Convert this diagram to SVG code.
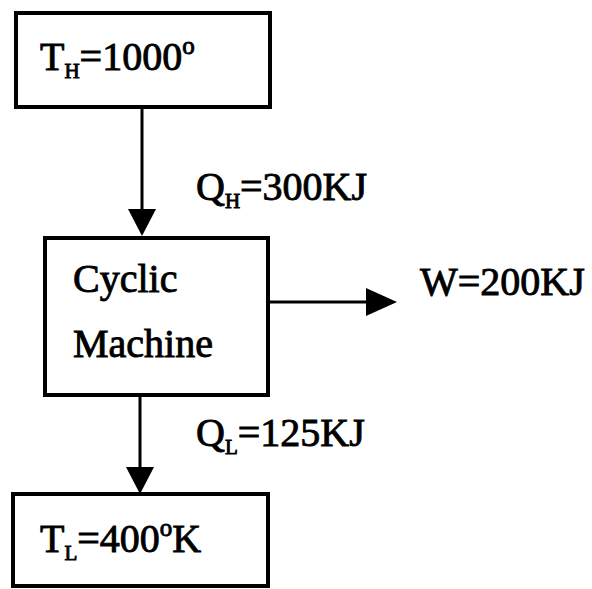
<svg xmlns="http://www.w3.org/2000/svg" width="592" height="589" viewBox="0 0 592 589">
<style>
.box{fill:#fff;stroke:#000;stroke-width:4}
.t{font-family:"Liberation Serif","Times New Roman",serif;font-size:40px;fill:#000;stroke:#000;stroke-width:0.9}
.s{font-size:21px}
.e{font-size:25px}
.ln{stroke:#000;stroke-width:3;fill:none}
</style>
<rect width="592" height="589" fill="#fff"/>
<g id="connectors">
<line class="ln" x1="142" y1="108" x2="142" y2="210"/>
<path d="M128,209 L156,209 L142,236 Z" fill="#000"/>
<line class="ln" x1="268" y1="302" x2="368" y2="302"/>
<path d="M366,288 L397,302 L366,316 Z" fill="#000"/>
<line class="ln" x1="140" y1="396" x2="140" y2="470"/>
<path d="M126,467 L154,467 L140,494 Z" fill="#000"/>
</g>
<g id="hot">
<rect class="box" x="16" y="13" width="254" height="94"/>
<text class="t" x="40" y="70">T<tspan class="s" dy="8">H</tspan><tspan dy="-8">=1000</tspan><tspan class="e" dy="-16">o</tspan></text>
</g>
<g id="qh"><text class="t" x="196" y="200">Q<tspan class="s" dy="8">H</tspan><tspan dy="-8">=300KJ</tspan></text></g>
<g id="machine">
<rect class="box" x="45" y="238" width="223" height="157"/>
<text class="t" x="73" y="292">Cyclic</text>
<text class="t" x="73" y="357">Machine</text>
</g>
<g id="w"><text class="t" x="420" y="295">W=200KJ</text></g>
<g id="ql"><text class="t" x="196" y="446">Q<tspan class="s" dy="8">L</tspan><tspan dy="-8">=125KJ</tspan></text></g>
<g id="cold">
<rect class="box" x="13" y="494" width="255" height="92"/>
<text class="t" x="40" y="552">T<tspan class="s" dy="8">L</tspan><tspan dy="-8">=400</tspan><tspan class="e" dy="-16">o</tspan><tspan dy="16">K</tspan></text>
</g>
</svg>
